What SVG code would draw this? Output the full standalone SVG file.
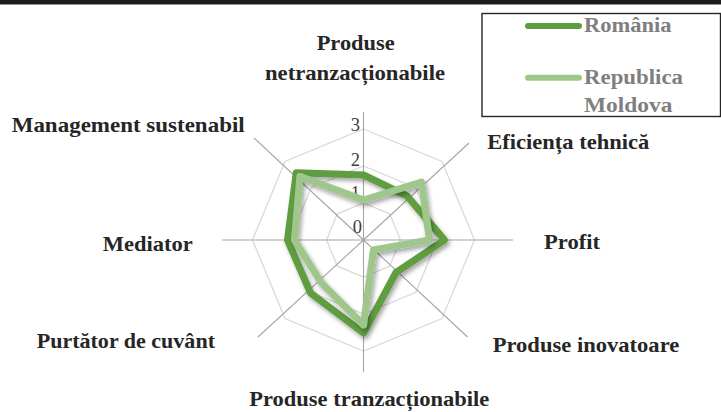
<svg xmlns="http://www.w3.org/2000/svg" width="721" height="412" viewBox="0 0 721 412">
<defs>
<style>
.lbl{font-family:"Liberation Serif","Times New Roman",serif;font-weight:bold;font-size:22px;fill:#262626}
.leg{font-family:"Liberation Serif","Times New Roman",serif;font-weight:bold;font-size:20px;fill:#7f7f7f}
.num{font-family:"Liberation Serif","Times New Roman",serif;font-size:18.5px;fill:#404040;text-anchor:end}
.ring{fill:none;stroke:#d9d9d9;stroke-width:1.3}
.axis{fill:none;stroke:#a6a6a6;stroke-width:1.1}
.ro{fill:none;stroke:#5f9d41;stroke-width:7;stroke-linejoin:round}
.md{fill:none;stroke:#9fc78c;stroke-width:7;stroke-linejoin:round}
</style>
<filter id="sh" x="-20%" y="-20%" width="140%" height="140%">
<feDropShadow dx="2" dy="3" stdDeviation="2" flood-color="#000" flood-opacity="0.35"/>
</filter>
</defs>
<rect x="0" y="0" width="721" height="412" fill="#ffffff"/>
<rect x="0" y="0" width="721" height="4.5" fill="#1c1c1c"/>

<g id="grid">
<polygon class="ring" points="363.5,129 441.99,161.51 474.5,240 441.99,318.49 363.5,351 285.01,318.49 252.5,240 285.01,161.51"/>
<polygon class="ring" points="363.5,166 415.83,187.67 437.5,240 415.83,292.33 363.5,314 311.17,292.33 289.5,240 311.17,187.67"/>
<polygon class="ring" points="363.5,203 389.66,213.84 400.5,240 389.66,266.16 363.5,277 337.34,266.16 326.5,240 337.34,213.84"/>
</g>
<g id="connectors">
<path class="axis" d="M363.5,112 L363.5,372 M222,240 L513,240 M363.5,240 L254,138 M363.5,240 L469,143 M363.5,240 L258,337 M363.5,240 L467.5,337"/>
</g>
<g id="scale">
<text class="num" x="360" y="131">3</text>
<text class="num" x="360" y="166">2</text>
<text class="num" x="360" y="199">1</text>
<text class="num" x="362" y="233">0</text>
</g>
<g id="series-romania" filter="url(#sh)">
<polygon class="ro" points="363.5,175 407.3,196.2 444.5,240 396,272.5 363.5,333 310.5,293 287.5,240 296.3,172.8"/>
</g>
<g id="series-moldova" filter="url(#sh)">
<polygon class="md" points="363.5,200 421.5,182 429.5,240 373.4,249.9 363.5,325 321.1,282.4 294.5,240 299.9,176.4"/>
</g>

<g id="label-netranz">
<text class="lbl" x="316.7" y="50" textLength="78" lengthAdjust="spacingAndGlyphs">Produse</text>
<text class="lbl" x="265" y="79.5" textLength="180" lengthAdjust="spacingAndGlyphs">netranzacționabile</text>
</g>
<g id="label-eficienta"><text class="lbl" x="487.3" y="149.3" textLength="162" lengthAdjust="spacingAndGlyphs">Eficiența tehnică</text></g>
<g id="label-profit"><text class="lbl" x="544" y="249" textLength="56" lengthAdjust="spacingAndGlyphs">Profit</text></g>
<g id="label-inovatoare"><text class="lbl" x="492.7" y="351.7" textLength="186.6" lengthAdjust="spacingAndGlyphs">Produse inovatoare</text></g>
<g id="label-tranz"><text class="lbl" x="249.3" y="406" textLength="240" lengthAdjust="spacingAndGlyphs">Produse tranzacționabile</text></g>
<g id="label-purtator"><text class="lbl" x="36.7" y="348.3" textLength="178.3" lengthAdjust="spacingAndGlyphs">Purtător de cuvânt</text></g>
<g id="label-mediator"><text class="lbl" x="102.7" y="250.7" textLength="90" lengthAdjust="spacingAndGlyphs">Mediator</text></g>
<g id="label-management"><text class="lbl" x="11.7" y="132.3" textLength="233" lengthAdjust="spacingAndGlyphs">Management sustenabil</text></g>

<g id="legend">
<rect x="482" y="13.5" width="238.5" height="103" fill="none" stroke="#262626" stroke-width="1.4"/>
<line x1="528" y1="26" x2="579" y2="26" stroke="#5f9d41" stroke-width="6" stroke-linecap="round"/>
<text class="leg" x="584" y="31.7" textLength="87.5" lengthAdjust="spacingAndGlyphs">România</text>
<line x1="528" y1="77.7" x2="579" y2="77.7" stroke="#9fc78c" stroke-width="6" stroke-linecap="round"/>
<text class="leg" x="584" y="83.5" textLength="99" lengthAdjust="spacingAndGlyphs">Republica</text>
<text class="leg" x="584" y="112.2" textLength="88.5" lengthAdjust="spacingAndGlyphs">Moldova</text>
</g>
</svg>
